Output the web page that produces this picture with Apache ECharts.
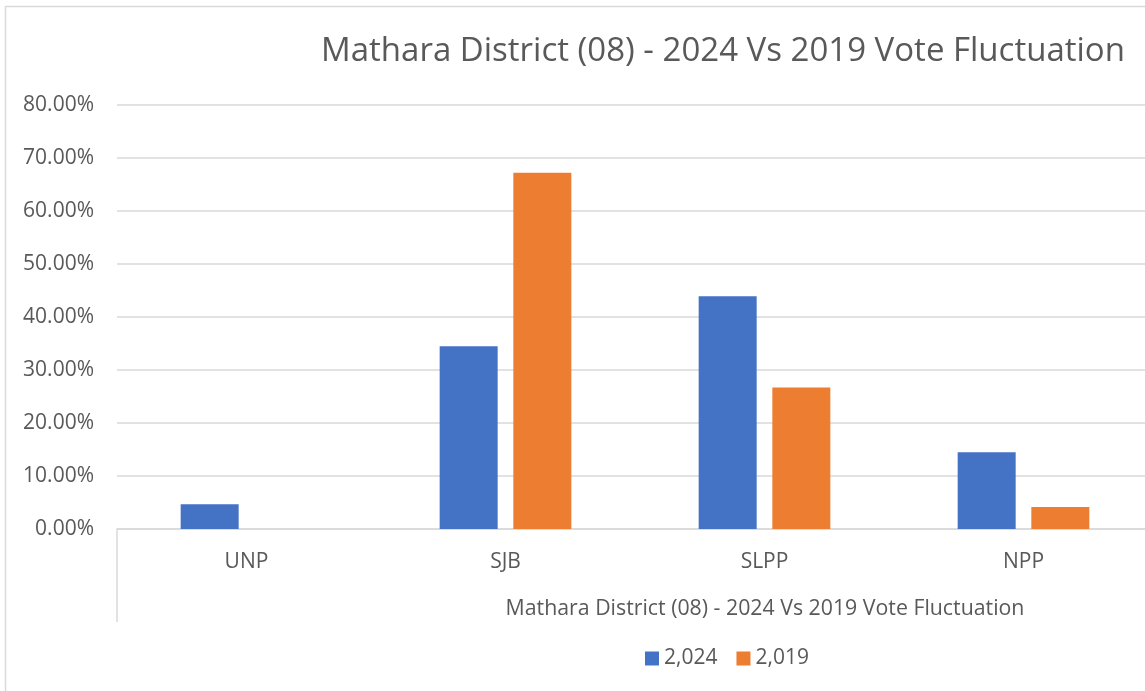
<!DOCTYPE html>
<html>
<head>
<meta charset="utf-8">
<script src="https://cdn.jsdelivr.net/npm/echarts@6/dist/echarts.min.js"></script>
<style>
  html, body { margin: 0; padding: 0; background: #fff; overflow: hidden; }
  #chart { width: 1153px; height: 691px; }
</style>
</head>
<body>
<div id="chart"></div>
<script>
var chartTitle = "Mathara District (08) - 2024 Vs 2019 Vote Fluctuation";
var parties = ["UNP", "SJB", "SLPP", "NPP"];
var groupLabel = ["Mathara District (08) - 2024 Vs 2019 Vote Fluctuation"];
var seriesNames = ["2,024", "2,019"];
var votes2024 = [0.0465, 0.345, 0.439, 0.145];
var votes2019 = [0, 0.672, 0.267, 0.0415];

var myChart = echarts.init(document.getElementById("chart"));
var font = "Open Sans";
var grey = "#595959";
var lineColor = "#d9d9d9";

var option = {
  backgroundColor: "#fff",
  animation: false,
  title: [
    {
      text: chartTitle,
      left: 718,
      top: 30,
      textAlign: "center",
      textStyle: { fontFamily: font, fontSize: 33, fontWeight: "normal", color: grey }
    },
    {
      // second level of the category axis
      text: groupLabel[0],
      left: 760,
      top: 593,
      textAlign: "center",
      textStyle: { fontFamily: font, fontSize: 21.3, fontWeight: "normal", color: grey }
    }
  ],
  legend: {
    left: 640,
    top: 643,
    icon: "rect",
    itemWidth: 14,
    itemHeight: 14,
    itemGap: 19,
    textStyle: { fontFamily: font, fontSize: 21, color: grey },
    data: seriesNames
  },
  grid: {
    left: 117,
    right: 0,
    top: 105,
    bottom: 162
  },
  xAxis: [
    {
      type: "category",
      data: parties,
      axisLine: { show: true, lineStyle: { color: lineColor, width: 1.5 } },
      axisTick: { show: false },
      axisLabel: { margin: 23, fontFamily: font, fontSize: 21, color: grey }
    },
    {
      type: "category",
      data: groupLabel,
      position: "bottom",
      axisLine: { show: false },
      axisTick: { show: true, inside: false, length: 93, lineStyle: { color: lineColor, width: 1.5 } },
      axisLabel: { show: false },
      splitLine: { show: false }
    }
  ],
  yAxis: {
    type: "value",
    min: 0,
    max: 0.8,
    interval: 0.1,
    axisLine: { show: false },
    axisTick: { show: false },
    splitLine: { lineStyle: { color: lineColor, width: 1.5 } },
    axisLabel: {
      margin: 23,
      fontFamily: font,
      fontSize: 21,
      color: grey,
      formatter: function (v) {
        return (v * 100).toFixed(2) + "%";
      }
    }
  },
  series: [
    {
      name: seriesNames[0],
      type: "bar",
      data: votes2024,
      barWidth: 58,
      barGap: "27%",
      itemStyle: { color: "#4472C4" }
    },
    {
      name: seriesNames[1],
      type: "bar",
      data: votes2019,
      barWidth: 58,
      barGap: "27%",
      itemStyle: { color: "#ED7D31" }
    }
  ],
  graphic: [
    {
      // chart area border
      type: "polyline",
      silent: true,
      shape: { points: [[5.5, 700], [5.5, 6.5], [1160, 6.5]] },
      style: { stroke: lineColor, lineWidth: 1.5, fill: null }
    }
  ]
};

option && myChart.setOption(option);
</script>
</body>
</html>
